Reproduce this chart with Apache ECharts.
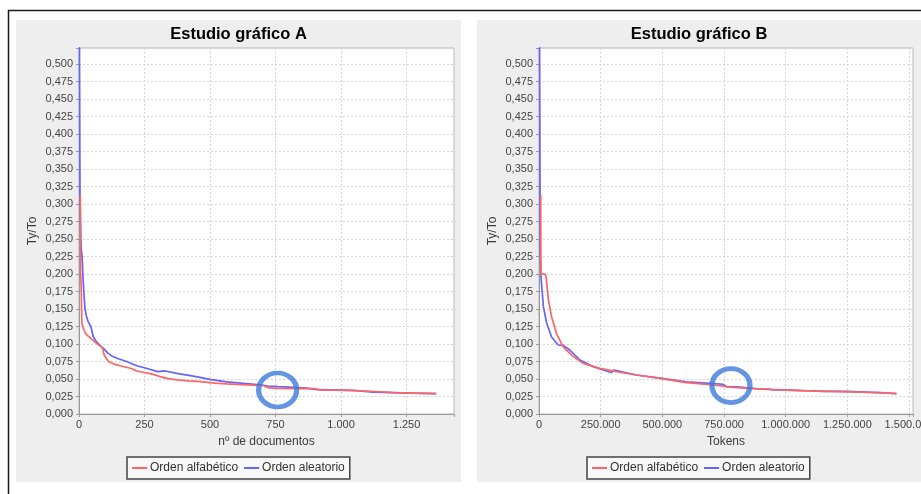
<!DOCTYPE html>
<html>
<head>
<meta charset="utf-8">
<script src="https://cdn.jsdelivr.net/npm/echarts@6/dist/echarts.min.js"></script>
<style>
  html, body { margin: 0; padding: 0; background: #ffffff; }
  #chart { width: 921px; height: 494px; }
</style>
</head>
<body>
<div id="chart"></div>
<script>
// ---- Text ----
const panelTitles = ['Estudio gráfico A', 'Estudio gráfico B'];
const seriesNames = ['Orden alfabético', 'Orden aleatorio'];
const xAxisNames = ['nº de documentos', 'Tokens'];
const yAxisName = 'Ty/To';

// ---- Axis scales ----
const yMax = 0.523;
const yStep = 0.025;
const yLabelTop = 0.5;
const xMaxA = 1431;
const xStepA = 250;
const xMaxB = 1516000;
const xStepB = 250000;

// ---- Study A: type/token ratio vs. number of documents ----
const docsAlfaA = [5, 6, 8, 10, 11, 15, 25, 45, 60, 85, 92, 95, 112, 140, 160, 200, 220, 240, 280, 309,
  340, 373, 420, 462, 520, 564, 620, 664, 700, 725, 760, 830, 900, 915, 1040, 1055, 1150, 1200, 1280, 1363];
const ttrAlfaA = [0.313, 0.200, 0.185, 0.150, 0.130, 0.124, 0.115, 0.108, 0.103, 0.096, 0.092, 0.085, 0.075, 0.0705, 0.0686, 0.065, 0.0615, 0.0600, 0.057, 0.0535,
  0.0505, 0.0488, 0.0472, 0.0462, 0.0442, 0.0430, 0.0420, 0.0414, 0.0410, 0.0372, 0.0367, 0.0364, 0.0362, 0.0345, 0.0338, 0.0333, 0.0318, 0.0306, 0.0298, 0.0290];

const docsAleaA = [1, 4, 8, 12, 15, 20, 23, 28, 35, 45, 55, 65, 80, 95, 110, 125, 150, 182, 220, 260,
  300, 305, 330, 373, 436, 500, 564, 627, 691, 720, 760, 820, 870, 910, 1000, 1060, 1120, 1200, 1270, 1363];
const ttrAleaA = [0.62, 0.30, 0.237, 0.225, 0.196, 0.165, 0.150, 0.140, 0.132, 0.125, 0.110, 0.104, 0.098, 0.093, 0.087, 0.083, 0.079, 0.075, 0.069, 0.065,
  0.0605, 0.063, 0.0615, 0.058, 0.054, 0.0495, 0.046, 0.0438, 0.0418, 0.0400, 0.0390, 0.0380, 0.0370, 0.0347, 0.0342, 0.0334, 0.0312, 0.0306, 0.0298, 0.0290];

// ---- Study B: type/token ratio vs. number of tokens ----
const tokensAlfaB = [7000, 7500, 24000, 29000, 38000, 51000, 71000, 98000, 139000, 179000, 247000, 314000,
  395000, 490000, 598000, 706000, 787000, 922000, 1058000, 1220000, 1382000, 1449000];
const ttrAlfaB = [0.313, 0.200, 0.200, 0.196, 0.163, 0.139, 0.115, 0.096, 0.082, 0.0724, 0.0652, 0.0605,
  0.0557, 0.051, 0.0448, 0.0414, 0.0380, 0.0352, 0.0333, 0.0319, 0.0305, 0.0292];

const tokensAleaB = [1500, 5000, 8000, 18000, 31000, 51000, 78000, 98000, 125000, 166000, 220000, 295000, 300000, 315000,
  395000, 490000, 598000, 706000, 746000, 760000, 802000, 895000, 936000, 949000, 1010000, 1078000, 1098000, 1147000, 1248000, 1374000, 1449000];
const ttrAleaB = [0.62, 0.239, 0.196, 0.153, 0.130, 0.110, 0.0986, 0.0980, 0.0914, 0.077, 0.0676, 0.059, 0.0629, 0.062,
  0.0557, 0.0512, 0.046, 0.0435, 0.0425, 0.0390, 0.0388, 0.0357, 0.0355, 0.0343, 0.0341, 0.0333, 0.0332, 0.0324, 0.0322, 0.0305, 0.0292];

// ---- Highlighted regions (circled in each panel) ----
const highlightA = [758, 0.0343];
const highlightB = [778000, 0.0407];

// ---- Style ----
const FONT = '"Liberation Sans", Arial, sans-serif';
const RED = '#ff6464';
const BLUE = '#6464ff';
const RING = '#3d7bdc';
const PANEL_BG = '#eeeeee';

const zip = (xs, ys) => xs.map((x, i) => [x, ys[i]]);
const fmtY = v => (v > yLabelTop + 1e-6 ? '' : v.toFixed(3).replace('.', ','));
const fmtX = step => v => {
  if (Math.abs(v / step - Math.round(v / step)) > 1e-9) return '';
  return String(Math.round(v)).replace(/\B(?=(\d{3})+(?!\d))/g, '.');
};

const grids = [
  { left: 79, top: 48, width: 375, height: 366 },
  { left: 539, top: 48, width: 374, height: 366 }
].map(g => Object.assign({
  show: true, backgroundColor: '#ffffff', borderColor: '#b8b8b8', borderWidth: 1,
  containLabel: false, outerBoundsMode: 'none'
}, g));

const splitLine = { show: true, lineStyle: { color: '#d4d4d4', width: 1, type: [2, 2] } };
const axisLine = { show: true, lineStyle: { color: '#9a9a9a', width: 1 } };
const axisTick = { show: true, length: 3, lineStyle: { color: '#9a9a9a' } };

function xAxis(idx, max, step, name) {
  return {
    type: 'value', gridIndex: idx, min: 0, max: max, interval: step,
    name: name, nameLocation: 'middle', nameGap: 22,
    nameTextStyle: { fontSize: 12, color: '#3a3a3a', fontFamily: FONT },
    axisLine: axisLine, axisTick: axisTick, splitLine: splitLine,
    axisLabel: { interval: 0, margin: 5, fontSize: 11, color: '#444', fontFamily: FONT, formatter: fmtX(step), hideOverlap: false }
  };
}
function yAxis(idx) {
  return {
    type: 'value', gridIndex: idx, min: 0, max: yMax, interval: yStep,
    name: yAxisName, nameLocation: 'middle', nameGap: 40,
    nameTextStyle: { fontSize: 12, color: '#3a3a3a', fontFamily: FONT },
    axisLine: axisLine, axisTick: axisTick, splitLine: splitLine,
    axisLabel: { interval: 0, margin: 6, fontSize: 11, color: '#444', fontFamily: FONT, formatter: fmtY, hideOverlap: false }
  };
}

function lineSeries(name, color, idx, data, z) {
  return {
    type: 'line', name: name, xAxisIndex: idx, yAxisIndex: idx, data: data,
    symbol: 'none', showSymbol: false, clip: true, z: z,
    lineStyle: { color: color, width: 1.7 }, itemStyle: { color: color },
    emphasis: { disabled: true }
  };
}
function ringSeries(idx, point) {
  return {
    type: 'scatter', name: 'ring' + idx, xAxisIndex: idx, yAxisIndex: idx, data: [point],
    symbol: 'circle', symbolSize: [38, 34], silent: true, z: 10, clip: false,
    itemStyle: { color: 'rgba(0,0,0,0)', borderColor: RING, borderWidth: 5 },
    emphasis: { disabled: true }
  };
}

function legend(left) {
  return {
    left: left, top: 457, orient: 'horizontal', data: seriesNames,
    icon: 'rect', itemWidth: 15, itemHeight: 2, itemGap: 6,
    itemStyle: { borderWidth: 0 },
    padding: [5, 5, 5, 5],
    borderColor: '#444', borderWidth: 1.5, backgroundColor: '#f8f8f8',
    textStyle: { fontSize: 12, color: '#333', fontFamily: FONT, padding: [0, 0, 0, -2] },
    selectedMode: false
  };
}

const chart = echarts.init(document.getElementById('chart'), null, { renderer: 'canvas' });
chart.setOption({
  animation: false,
  textStyle: { fontFamily: FONT },
  grid: grids,
  xAxis: [xAxis(0, xMaxA, xStepA, xAxisNames[0]), xAxis(1, xMaxB, xStepB, xAxisNames[1])],
  yAxis: [yAxis(0), yAxis(1)],
  legend: [legend(127), legend(587)],
  series: [
    lineSeries(seriesNames[0], RED, 0, zip(docsAlfaA, ttrAlfaA), 4),
    lineSeries(seriesNames[1], BLUE, 0, zip(docsAleaA, ttrAleaA), 3),
    lineSeries(seriesNames[0], RED, 1, zip(tokensAlfaB, ttrAlfaB), 4),
    lineSeries(seriesNames[1], BLUE, 1, zip(tokensAleaB, ttrAleaB), 3),
    ringSeries(0, highlightA),
    ringSeries(1, highlightB)
  ],
  graphic: [
    { type: 'rect', z: -10, silent: true, shape: { x: 16, y: 20, width: 445, height: 462 }, style: { fill: PANEL_BG } },
    { type: 'rect', z: -10, silent: true, shape: { x: 477, y: 20, width: 444, height: 462 }, style: { fill: PANEL_BG } },
    { type: 'line', z: -5, silent: true, shape: { x1: 8, y1: 10.5, x2: 921, y2: 10.5 }, style: { stroke: '#1a1a1a', lineWidth: 1.5 } },
    { type: 'line', z: -5, silent: true, shape: { x1: 8.5, y1: 10, x2: 8.5, y2: 494 }, style: { stroke: '#1a1a1a', lineWidth: 1.5 } },
    { type: 'text', z: 5, silent: true, x: 238.5, y: 34,
      style: { text: panelTitles[0], font: 'bold 16.5px ' + FONT, fill: '#000', align: 'center', verticalAlign: 'middle' } },
    { type: 'text', z: 5, silent: true, x: 699, y: 34,
      style: { text: panelTitles[1], font: 'bold 16.5px ' + FONT, fill: '#000', align: 'center', verticalAlign: 'middle' } }
  ]
});
</script>
</body>
</html>
